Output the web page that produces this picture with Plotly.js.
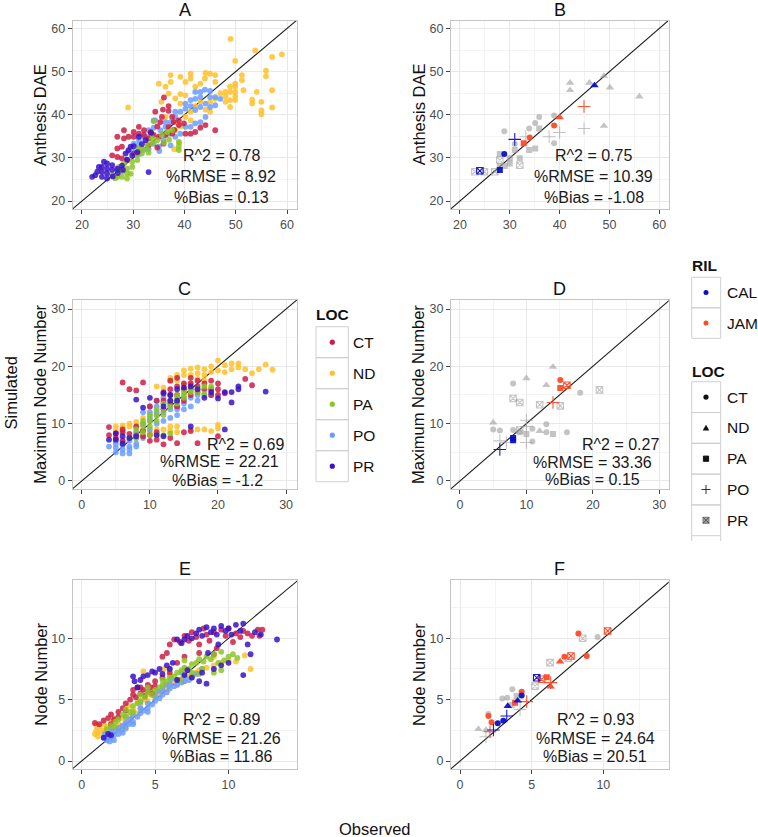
<!DOCTYPE html>
<html>
<head>
<meta charset="utf-8">
<script src="https://cdn.plot.ly/plotly-3.0.1.min.js"></script>
<style>html,body{margin:0;padding:0;background:#fff;}#chart{width:758px;height:837px;}</style>
</head>
<body>
<div id="chart"></div>
<script>
// ---------------- DATA ----------------
const locLevels = ['CT','ND','PA','PO','PR'];
const rilLevels = ['CAL','JAM'];
const panelTitles = ['A','B','C','D','E','F'];
const yTitles = ['Anthesis DAE','Anthesis DAE','Maximum Node Number','Maximum Node Number','Node Number','Node Number'];
const statsText = [
  ['R^2 = 0.78','%RMSE = 8.92','%Bias = 0.13'],
  ['R^2 = 0.75','%RMSE = 10.39','%Bias = -1.08'],
  ['R^2 = 0.69','%RMSE = 22.21','%Bias = -1.2'],
  ['R^2 = 0.27','%RMSE = 33.36','%Bias = 0.15'],
  ['R^2 = 0.89','%RMSE = 21.26','%Bias = 11.86'],
  ['R^2 = 0.93','%RMSE = 24.64','%Bias = 20.51']
];

// Panel A : Anthesis DAE (all RILs), coloured by LOC
const obsA_ND = [49,53.8,59,57.1,49.9,55.9,55.9,57.1,57.1,55,55,55,54.1,53.2,53.2,51.2,51.2,51.5,49.9,49.9,49.9,49.9,49.9,48.9,48.9,48.9,48,48,47,46,46,45,44.1,44,43.1,42.1,41.2,41.2,40.2,39.2,37.3,37.3,36.3,35,35.5,29,36.9,38.2,39.2,39.2,40.2,40.2,41.2,42.1,43.1,45,46,44.1,45,41.2,39.2,38.2,38.2,36.3,48,48.9,39,38];
const simA_ND = [57.6,54.9,54,53.4,52.5,50.2,48.9,45.7,41.7,43,41,40.1,45.3,43.5,42.6,49.2,48,45.7,47.2,46.5,45.3,44.3,43.4,46.5,45.3,43.4,45.3,44.3,45,49.2,47.6,49.5,49.7,48.4,47.2,46.5,49.5,48.4,47.6,48.8,49.2,47.6,46.5,47.2,43,41.7,44.9,43.8,44.8,42.6,44.5,39.5,40.7,42,43,43,43.7,41.2,40.7,38.7,37.3,36.4,38.7,39.5,43,41.8,33.5,32];
const obsA_CT = [35.8,36.9,36.9,37.6,37.9,38.9,35.6,35.3,34.7,33.4,32.1,31.1,30.1,28.2,26.9,28.2,29.1,30.1,31.1,32.1,33,34,35,36.9,38.9,39.9,41.2,42.1,44.1,46,43.1,40.2,27.8,26.9,25.9,26.9,27.8,28.8,30.1,31.1,33,34.7,35.9,36.3,37.6,34.3,36,38];
const simA_CT = [41.2,42,40.9,39.5,38.3,38.7,39.5,38.3,37.3,36,36.4,37.2,36,36.4,34.9,34.5,34.9,34.9,35.6,35.3,34.5,35.3,34.9,37.2,37.6,38,35.6,36,37.6,36.4,37,35.6,32.6,32.2,30.6,30.2,29.9,29.5,31,31.4,32.9,32.4,33.3,35.3,35.6,40.7,44,36.5];
const obsA_PA = [26.9,27.8,27.8,28.8,28.8,29.8,29.8,30.8,30.8,31.7,31.7,32.7,32.7,33.7,33.7,34.7,35.6,36.6,37.6,38.9,38.9,38.9,28.8,25.9,27.2,28.2,31.1,34,27,29.5,33,36,37,26.5];
const simA_PA = [25.6,25.6,26.8,26.4,27.5,27.9,29.1,29.5,30.6,31,32.2,32.2,33.3,33.3,34.5,34.1,35.3,36,36.4,33.7,32.7,31.8,25.2,26,27.9,28.7,32.2,38.5,27.2,26.3,31.2,33.5,34.2,25.3];
const obsA_PO = [42.1,43.1,45,46,47,43.1,42.1,41.2,41.2,42.1,43.1,44.1,45,46,40.2,40.2,39.2,38.2,38.2,37.3,36.3,36.3,35.3,34.3,34,33,32.9,32.1,31.1,31.1,30.1,30.1,34,35,35.1,37.3,38.2,39.2,40.2,41.2,42.1,43.1,44.1,36.9,35.9,34,44,45,29,31,33,32];
const simA_PO = [45.3,45.3,44.1,44.1,43.7,44.1,43.7,43.4,42,41.1,41.8,42.6,41.8,42.2,42.6,41.4,40.7,40.7,39.5,38.3,38.3,37.2,36.4,38.7,37,36.4,34.9,34.9,34.1,33,33.3,31.4,33.3,32.6,31.6,32.9,34.9,35.6,37.2,37.2,38,38.3,39.5,35.6,34.1,38.7,45.8,45.5,31.5,30.8,32,31.8];
const obsA_PR = [22.6,23.9,23.9,23.9,24.9,24.9,24.9,25.9,25.9,22,23,24.9,23.3,24.3,30.1,31.1,28.5,29.1,29.5,32.4,33,26.9,27.8,28.8,29.8,30.8,31.7,33.5,26,27,28];
const simA_PR = [26,27.9,26.8,25.6,28.7,27.5,26.4,28.3,27.2,25.6,26.8,25.2,27.9,29.1,32.7,34.9,31,31.8,32.6,34.1,26.7,27.5,28.2,29.6,30.5,31.3,33.2,35.8,25.7,26.5,27.2];

// Panel C : Maximum Node Number (all RILs), coloured by LOC
const obsC_CT = [6,7,8,9,12,12,13,13,13,14,14,14,15,15,16,16,16,16,17,17,17,18,18,19,19,19,20,20,20,21,24,25,13,11,10,15,12,14,4,4,5,5,6,6,7,8,9,9,10,11,12,13,14,15,16,17,20,10,11,6,8];
const simC_CT = [17.2,16,15.8,17.2,14,15.5,15,16,17.5,15,16.5,18,16,17,15,16,17,18,15.5,16.5,17.5,16,17,15,16,17.5,15,16,17,15.3,17.8,16.7,13.5,14,13,14,12.5,13,8,9.4,8.3,7.5,7,8.5,8.2,8,7.8,8.8,8,8.5,6.4,7.5,6.6,8.5,8.7,6.6,7.8,7,7.2,9,9.5];
const obsC_ND = [5,6,6,7,7,8,8,9,9,10,11,12,12,13,13,14,14,15,15,16,16,17,17,18,18,19,19,20,20,21,21,22,22,23,23,24,25,26,27,28,13,14,14,16,17,18,19,20,20,13,5,6,9,10,11,12,16,18,17,15];
const simC_ND = [9.5,9.3,9.7,9.5,10,9.5,10.3,10,11,11.5,16.5,15,16.3,17.5,18,17.5,18.5,18.5,19.3,18.5,19.6,18.8,19.8,18.5,19.5,19,20,19.3,21,19,20.2,19.5,20.5,19.8,20.5,19.5,18.8,19.5,20.3,19.4,9.5,9.5,8.5,9,9,9,8.7,9.2,9.8,8.7,8.8,8.7,8,8.5,9,9,17,17.5,17.8,16.8];
const obsC_PA = [7,8,8,9,9,9,10,10,10,10,11,11,11,12,12,12,13,13,14,14,15,15,16,16,17,18,19,13,11,12,8,14,15,17,18];
const simC_PA = [7.5,8,9,8.5,9.5,10.5,8,9.5,10.5,11.5,10.5,11.5,12.5,11.5,12.5,13.5,13,14,13.5,14.5,14.5,15.5,15.5,16,16,16.5,16.5,8.3,8,8,7.5,15,15,15.5,15.2];
const obsC_PO = [5,5,5,6,6,6,6,7,7,7,8,8,8,9,9,9,9,10,10,10,10,11,11,11,11,12,12,12,12,13,13,13,14,14,14,15,15,16,16,17,17,18,19,4,5,7,8,10,11,13,14,15];
const simC_PO = [5,5.8,6.5,4.8,5.5,6.3,7,4.8,6,7,6.5,7.5,8.5,7.5,8.8,10,12,9,10.5,12,13,10,11.5,13,14,10.5,12,13.5,14.5,11,12.5,14,11.5,13,14,12.5,13.5,13,14.5,14,15,15,15,6,7,5.5,6,11,12,13,12.5,14.5];
const obsC_PR = [4,5,5,6,7,8,9,10,11,12,12,13,14,14,15,16,16,17,19,20,21,21,22,22,23,23,27,18,13,12,6,8];
const simC_PR = [7.2,7.2,8.3,7.8,7.5,14.2,12.8,14.5,8,7.8,15.3,15,14,16,16.3,16.5,9.5,16,15.5,14.4,15.5,9,13.7,15.5,16.5,16,15.6,14.5,14,13,6.5,7.8];

// Panel E : Node Number (all RILs), coloured by LOC
const obsE_PO = [1.5,1.7,1.8,2,2,2.2,2.3,2.5,2.5,2.7,2.8,3,3,3.2,3.3,3.5,3.5,3.8,4,4,4.2,4.5,4.5,4.8,5,5,5.3,5.5,5.5,5.8,6,6,6.3,6.5,6.5,6.8,7,7,7.3,7.5,2.2,2.8,3.5,4.5,1.6,5.2,6.1,7.8,8.2,3,2,4,5.7,6.8,1.9];
const simE_PO = [1.9,1.7,2.1,1.9,2.3,2.1,2.5,2.2,2.7,2.5,2.9,2.7,3.1,3,3.4,3.2,3.7,3.6,3.9,4.3,4.1,4.3,4.7,4.6,4.9,5.3,5.1,5.4,5.8,5.6,5.9,6.3,6.1,6.2,6.6,6.4,6.5,6.9,6.6,6.8,1.7,2.3,3,4,2.2,5.7,6.7,7.1,7.5,3.6,2.7,4.8,6.2,7.2,1.6];
const obsE_ND = [0.9,1,1,1.1,1.2,1.3,1.5,1.5,1.7,1.8,2,2,2.3,2.5,2.5,2.8,3,3,3.3,3.5,3.7,4,4,4.2,4.3,4.5,4.7,5,5,5.3,5.5,5.6,5.8,6,6.3,6.5,6.8,7,7.3,7.5,7.8,8,8.5,9,9.5,10,10.5,11.1,11.5,3.2,3.8,2.2,6,7,9,2.7];
const simE_ND = [2.2,2.5,2.9,2,2.7,2.3,2.5,3,2.8,2.2,2.6,3.1,2.7,2.5,3,2.8,2.6,3.3,3.7,4.2,3.9,4.3,4.6,7.3,5,4.9,5.4,5.2,5.7,5.5,5.8,7.5,6,6.2,6.5,6.3,6.7,6.5,6.9,7,7.2,7.4,7.6,7.8,8,8.2,8.1,8.6,7.5,4.5,4.8,3.5,7,7.5,8.5,3.5];
const obsE_CT = [0.9,1.2,1.5,1.8,2,2.2,2.5,2.5,2.8,3,3,3.3,3.5,3.5,3.7,3.8,4,4,4.2,4.3,4.5,4.5,4.7,5,5,5.5,5.5,5.8,6,6,6.3,6.5,6.7,7,7,7.3,7.5,7.8,8,8.3,8.5,8.7,9,9.2,9.5,9.8,10,10.3,10.5,10.8,11,11.3,11.6,12,12.3,12.1,8,9,4.8,2];
const simE_CT = [3.1,3,3.3,3.5,3.8,3.4,4,3.6,4.3,4.1,4.7,5,5.4,5.8,5.2,6,5.5,6,5.8,5.3,6.2,5.7,6,6.5,6.1,6.8,8.5,8.8,7.2,9.5,9.9,8,9.7,8.5,10.2,9.8,10.5,10.1,9.5,10.8,10.3,9.8,10.5,9.2,10.7,10.2,10.8,9.7,10.4,10.1,10.6,10.4,10.2,10.7,10.7,10.2,8.8,8.7,5.5,3];
const obsE_PA = [1.7,2,2.3,2.5,2.8,3,3,3.3,3.5,3.8,4,4,4.3,4.5,4.8,5,5.3,5.5,5.8,6,6.3,6.5,6.8,7,7.3,7.5,7.8,8,8.3,8.5,8.8,9,9.3,9.5,9.7,10,10.3,10.6,9,8,6,7,4.5,3.5,2.2,8.2,9.5,7.5,6.7,5.5];
const simE_PA = [2.6,2.9,3.2,3.4,3.8,3.6,4.2,4,4.5,4.7,4.9,5.4,5.2,5.6,5.4,5.8,6,6.2,6.5,6.8,6.9,7.2,7.4,7.6,7.5,7.9,8,8.3,8.1,8.5,8.3,8.7,8,7.4,8.2,8.5,8.7,8.4,7.2,7.1,7.5,8.2,6,4,2.8,7.5,8.9,7.2,6.6,6.6];
const obsE_PR = [1.5,1.8,2,3.5,3.6,4,4.2,4.5,4.8,5,5.3,5.5,5.8,6,6.2,6.5,6.8,7,7.2,7.5,7.8,8,8.2,8.5,8.8,9,9.2,9.5,9.8,10,10.2,10.5,10.8,11,11.3,11.5,11,13.3,7,7.5,8,8.5,9,9.5,10,6.5,7.2,8.2,12.2,11.8,9.3,8.6,3.8];
const simE_PR = [1.9,2.2,2.1,6.9,6.5,6.6,6.9,7,7.3,7.2,7.5,7.1,7.8,7.5,8,9.9,9.6,9.9,10.2,10,10.4,10.7,10.2,10.9,10.5,10.8,10.3,11,10.6,10.8,10.3,11.1,10.6,11.2,9.5,8.7,7,9.9,7,6.8,6.5,6.3,7.5,7.8,8,6.6,7.4,7.2,10.3,10.5,9.5,8.8,6];

// Panel B : Anthesis DAE (selected RILs); RIL '' = not CAL/JAM
const obsB = [42.1,42.1,46,48.9,50.1,56,48.9,47,44.9,44.9,37.9,40,33.2,40,38.9,34,32.8,35.9,35.1,33.9,28.9,38.9,38.9,31,35.9,35.1,33.9,32,30,30,28,28,29,31,32,27,24.9,23,28,31,28.9,28,24];
const simB = [47.4,45.7,47.4,49,46.3,44.2,37.4,46.8,41.9,36.8,34.9,35.9,34.9,39.4,37.5,34.7,33.4,39.5,38.1,36.8,36.2,33.4,39.8,33.2,36.8,32.2,31.8,29.9,29.9,28.7,30.9,28.1,28.1,31.8,28.3,26.8,26.8,26.8,29.5,34.3,30.9,27.2,27];
const locB = ['ND','ND','ND','ND','ND','ND','ND','ND','PO','PO','PO','PO','PO','ND','CT','CT','PA','CT','CT','CT','CT','CT','CT','CT','PA','PA','PA','PA','PA','PA','PA','PA','PA','PA','PR','PR','PR','PR','PR','PO','CT','PA','PR'];
const rilB = ['','','','','','','','CAL','JAM','','','','','JAM','JAM','JAM','JAM','','','','','','','','','','','','','','','','','','','','','','','CAL','CAL','CAL','CAL'];

// Panel D : Maximum Node Number (selected RILs)
const obsD = [8,18.1,5,6,10.9,10.9,13,13,16.1,8,5,10,13,14,12,10,14,9,8,9,12,15.1,21,9,6,10,10,7,10,15.1,15.1,16.1,14,8,8,6];
const simD = [17,15.4,9,8.8,9.1,6.9,9.9,8.5,8.5,8.9,10.2,17.9,16.7,19.9,8.7,8.2,8.2,8.5,14.4,13.7,13.3,13.1,15.9,8.9,7,10.6,6.7,6.7,9.5,17.6,16.2,16.7,13.7,7.1,7.5,5.5];
const locD = ['CT','CT','CT','CT','CT','CT','CT','CT','CT','CT','ND','ND','ND','ND','ND','PA','PA','PA','PR','PR','PR','PR','PR','PR','PO','PO','PO','PO','PO','CT','PA','PR','PO','PA','PA','PO'];
const rilD = ['','','','','','','','','','','','','','','','','','','','','','','','','','','','','','JAM','JAM','JAM','JAM','CAL','CAL','CAL'];

// Panel F : Node Number (selected RILs)
const obsF = [8.26,7.28,8.84,4.3,1.98,2.2,9.6,2.95,3.3,3.65,1.98,8.56,6.28,5.23,7.56,10.3,7.74,5.7,6.98,6.33,6.05,3.84,6.33,4.65,5.35,4.3,3.02,2.63,3.33,4.02,3.26,2.33,1.28,1.81,1.81,4.19,2.09,3.6,3.95];
const simF = [10.4,8.5,8.56,5.65,3.67,3.15,10.1,5.1,5.16,5.84,3.83,10,8.02,6.1,8.37,10.6,8.56,6.66,8.1,6.06,6.82,4.75,6.39,4.84,6.79,5.33,3.29,3.07,4.48,4.92,3.67,2.53,2.6,2.53,1.98,4.21,2.39,4.57,5.3];
const locF = ['CT','CT','CT','CT','CT','CT','CT','CT','CT','CT','CT','PR','PR','PR','PR','PR','PR','PR','ND','ND','PA','PA','PO','PO','PR','CT','CT','CT','ND','ND','PO','PO','ND','ND','PO','PO','PO','PA','PA'];
const rilF = ['JAM','JAM','JAM','JAM','JAM','JAM','','','','','','','','','','JAM','JAM','JAM','JAM','JAM','JAM','JAM','JAM','JAM','CAL','CAL','CAL','CAL','CAL','CAL','CAL','CAL','','','','','JAM','',''];

// axis ranges [x, y] per panel
const rangesX = [[18.2,61.95],[18.2,61.9],[-1.33,31.6],[-1.35,31.42],[-0.61,14.66],[-0.63,14.56]];
const rangesY = [[18.15,61.8],[18.15,61.8],[-1.4,31.57],[-1.4,31.57],[-0.65,14.75],[-0.65,14.75]];
const majorTick = [10,10,10,10,5,5];
// stats label positions (data units) per panel: [x,y] for each line
const statsPos = [
  [[47.2,30.65],[47.2,25.6],[47.2,20.9]],
  [[46.9,30.65],[46.9,25.6],[46.9,20.9]],
  [[24.1,6.45],[20.2,3.36],[20.0,0.17]],
  [[24.1,6.45],[20.0,3.3],[20.0,0.2]],
  [[9.5,3.4],[9.5,1.85],[9.5,0.35]],
  [[9.42,3.4],[9.42,1.85],[9.42,0.35]]
];

// ---------------- STYLE ----------------
const W = 758, H = 837;
const FONT = 'Liberation Sans, Arial, Helvetica, sans-serif';
const locColors = {CT:'#CC1F45', ND:'#FFC12A', PA:'#8CC625', PO:'#6A9CFF', PR:'#3A12C8'};
const rilColors = {CAL:'#0A10C8', JAM:'#FF4A26', '':'#9c9c9c'};
const locSymbols = {CT:'circle', ND:'triangle-up', PA:'square', PO:'cross-thin-open', PR:'square-x-open'};
const locSizes = {CT:6, ND:7.5, PA:6, PO:9, PR:6.5};
// panel pixel boxes [left, right, top, bottom]
const colX = [[72.7,297],[451,668.7]];
const rowY = [[20.7,209],[300,489],[580,769]];
const px2x = p => p / W;
const px2y = p => 1 - p / H;

const data = [];
const layout = {
  width: W, height: H, margin: {l:0, r:0, t:0, b:0},
  paper_bgcolor: '#ffffff', plot_bgcolor: '#ffffff',
  font: {family: FONT, color: '#1a1a1a'},
  showlegend: false, annotations: [], shapes: []
};

for (let i = 0; i < 6; i++) {
  const c = i % 2, r = Math.floor(i / 2);
  const xs = i === 0 ? '' : String(i + 1);
  const dt = majorTick[i];
  const base = {
    autorange: false, tick0: 0, dtick: dt, ticks: 'outside', ticklen: 4, tickwidth: 1,
    tickcolor: '#444', showline: true, mirror: true, linecolor: '#c4c4c4', linewidth: 1,
    showgrid: true, gridcolor: '#e8e8e8', gridwidth: 1, zeroline: false,
    tickfont: {size: 12.5, color: '#4d4d4d', family: FONT},
    minor: {tick0: 0, dtick: dt / 2, showgrid: true, gridcolor: '#f4f4f4', gridwidth: 1, ticks: ''},
    fixedrange: true
  };
  layout['xaxis' + xs] = Object.assign({}, base, {
    domain: [px2x(colX[c][0]), px2x(colX[c][1])], range: rangesX[i], anchor: 'y' + xs
  });
  layout['yaxis' + xs] = Object.assign({}, base, {
    domain: [px2y(rowY[r][1]), px2y(rowY[r][0])], range: rangesY[i], anchor: 'x' + xs
  });
  // panel title
  layout.annotations.push({text: panelTitles[i], xref: 'paper', yref: 'paper',
    x: px2x((colX[c][0] + colX[c][1]) / 2), y: px2y(rowY[r][0] - 11), xanchor: 'center', yanchor: 'middle',
    showarrow: false, font: {size: 18, color: '#111'}});
  // y axis title
  layout.annotations.push({text: yTitles[i], xref: 'paper', yref: 'paper', textangle: -90,
    x: px2x(colX[c][0] - 32.5), y: px2y((rowY[r][0] + rowY[r][1]) / 2), xanchor: 'center', yanchor: 'middle',
    showarrow: false, font: {size: 16.5, color: '#111'}});
  // stats
  for (let k = 0; k < 3; k++) {
    layout.annotations.push({text: statsText[i][k], xref: 'x' + xs, yref: 'y' + xs,
      x: statsPos[i][k][0], y: statsPos[i][k][1], xanchor: 'center', yanchor: 'middle',
      showarrow: false, font: {size: 16, color: '#1a1a1a'}});
  }
  // 1:1 line from the axis ranges
  const lo = Math.min(rangesX[i][0], rangesY[i][0]) - 5, hi = Math.max(rangesX[i][1], rangesY[i][1]) + 5;
  data.push({type: 'scatter', mode: 'lines', x: [lo, hi], y: [lo, hi], xaxis: 'x' + xs, yaxis: 'y' + xs,
    line: {color: '#1e1e1e', width: 1.1}, hoverinfo: 'skip'});
}

// coloured-by-LOC panels (A, C, E)
function addLocSeries(xs, obs, sim, loc) {
  data.push({type: 'scatter', mode: 'markers', x: obs, y: sim, xaxis: 'x' + xs, yaxis: 'y' + xs,
    marker: {color: locColors[loc], size: 5.8, opacity: 0.85, line: {width: 0}}, hoverinfo: 'skip'});
}
const order = ['ND','PO','CT','PA','PR'];
const setA = {CT:[obsA_CT,simA_CT], ND:[obsA_ND,simA_ND], PA:[obsA_PA,simA_PA], PO:[obsA_PO,simA_PO], PR:[obsA_PR,simA_PR]};
const setC = {CT:[obsC_CT,simC_CT], ND:[obsC_ND,simC_ND], PA:[obsC_PA,simC_PA], PO:[obsC_PO,simC_PO], PR:[obsC_PR,simC_PR]};
const setE = {CT:[obsE_CT,simE_CT], ND:[obsE_ND,simE_ND], PA:[obsE_PA,simE_PA], PO:[obsE_PO,simE_PO], PR:[obsE_PR,simE_PR]};
order.forEach(l => addLocSeries('', setA[l][0], setA[l][1], l));
order.forEach(l => addLocSeries('3', setC[l][0], setC[l][1], l));
order.forEach(l => addLocSeries('5', setE[l][0], setE[l][1], l));

// shape-by-LOC, colour-by-RIL panels (B, D, F)
function addRilPanel(xs, obs, sim, loc, ril) {
  ['', 'JAM', 'CAL'].forEach(rv => {
    locLevels.forEach(lv => {
      const xx = [], yy = [];
      for (let j = 0; j < obs.length; j++) if (ril[j] === rv && loc[j] === lv) { xx.push(obs[j]); yy.push(sim[j]); }
      if (!xx.length) return;
      const col = rilColors[rv];
      const open = (lv === 'PO' || lv === 'PR');
      data.push({type: 'scatter', mode: 'markers', x: xx, y: yy, xaxis: 'x' + xs, yaxis: 'y' + xs,
        marker: {symbol: locSymbols[lv], size: locSizes[lv], color: col, opacity: rv === '' ? 0.6 : 0.95,
          line: {color: col, width: open ? 1.1 : 0}}, hoverinfo: 'skip'});
    });
  });
}
addRilPanel('2', obsB, simB, locB, rilB);
addRilPanel('4', obsD, simD, locD, rilD);
addRilPanel('6', obsF, simF, locF, rilF);

// outer titles
layout.annotations.push({text: 'Simulated', xref: 'paper', yref: 'paper', textangle: -90,
  x: px2x(10.5), y: px2y(393), xanchor: 'center', yanchor: 'middle', showarrow: false, font: {size: 16.5, color: '#111'}});
layout.annotations.push({text: 'Observed', xref: 'paper', yref: 'paper',
  x: px2x(375), y: px2y(829), xanchor: 'center', yanchor: 'middle', showarrow: false, font: {size: 16.5, color: '#111'}});

// ---------------- LEGENDS (drawn as shapes + text) ----------------
function rectPx(x0, y0, x1, y1, line, fill) {
  layout.shapes.push({type: 'rect', xref: 'paper', yref: 'paper', x0: px2x(x0), x1: px2x(x1), y0: px2y(y1), y1: px2y(y0),
    line: {color: line, width: 1}, fillcolor: fill || 'rgba(0,0,0,0)', layer: 'above'});
}
function linePx(x0, y0, x1, y1, col, w) {
  layout.shapes.push({type: 'line', xref: 'paper', yref: 'paper', x0: px2x(x0), x1: px2x(x1), y0: px2y(y0), y1: px2y(y1),
    line: {color: col, width: w || 1}, layer: 'above'});
}
function circlePx(cx, cy, rr, col) {
  layout.shapes.push({type: 'circle', xref: 'paper', yref: 'paper', x0: px2x(cx - rr), x1: px2x(cx + rr), y0: px2y(cy + rr), y1: px2y(cy - rr),
    line: {width: 0}, fillcolor: col, layer: 'above'});
}
function pathPx(pts, col) {
  const d = pts.map((p, k) => (k ? 'L' : 'M') + px2x(p[0]).toFixed(5) + ',' + px2y(p[1]).toFixed(5)).join(' ') + ' Z';
  layout.shapes.push({type: 'path', xref: 'paper', yref: 'paper', path: d, line: {width: 0}, fillcolor: col, layer: 'above'});
}
function textPx(t, x, y, size, bold, anchor) {
  layout.annotations.push({text: bold ? '<b>' + t + '</b>' : t, xref: 'paper', yref: 'paper', x: px2x(x), y: px2y(y),
    xanchor: anchor || 'left', yanchor: 'middle', showarrow: false, font: {size: size, color: '#111'}});
}
const keyBorder = '#cfcfcf';

// LOC colour legend beside panel C
textPx('LOC', 314, 314, 15.5, true);
locLevels.forEach((l, k) => {
  const top = 326.7 + k * 31;
  rectPx(316, top, 348.3, top + 31, keyBorder);
  circlePx(332.3, top + 15.5, 2.6, locColors[l]);
  textPx(l, 350.5, top + 15.5, 15.5, false);
});

// RIL legend (right)
textPx('RIL', 689.5, 265, 15.5, true);
rilLevels.forEach((l, k) => {
  const top = 277.3 + k * 30.5;
  rectPx(691.7, top, 720.7, top + 30.5, keyBorder);
  circlePx(706, top + 15.25, 2.5, rilColors[l]);
  textPx(l, 724.5, top + 15.25, 15.5, false);
});

// LOC shape legend (right)
textPx('LOC', 689.5, 371.7, 15.5, true);
locLevels.forEach((l, k) => {
  const top = 381.7 + k * 30.8;
  const cy = top + 15.4, cx = 706;
  rectPx(691.7, top, 720.7, top + 30.8, keyBorder);
  if (l === 'CT') circlePx(cx, cy, 2.6, '#111');
  if (l === 'ND') pathPx([[cx - 3.3, cy + 2.6], [cx + 3.3, cy + 2.6], [cx, cy - 3.2]], '#111');
  if (l === 'PA') rectPx(cx - 2.6, cy - 2.6, cx + 2.6, cy + 2.6, '#111', '#111');
  if (l === 'PO') { linePx(cx - 4.5, cy, cx + 4.5, cy, '#333', 1); linePx(cx, cy - 4.5, cx, cy + 4.5, '#333', 1); }
  if (l === 'PR') { rectPx(cx - 3, cy - 3, cx + 3, cy + 3, '#777', '#aaa'); linePx(cx - 3, cy - 3, cx + 3, cy + 3, '#444', 1); linePx(cx - 3, cy + 3, cx + 3, cy - 3, '#444', 1); }
  textPx(l, 724.5, cy, 15.5, false);
});
// cut-off edge of the next key below the right legend
linePx(691.7, 535.7, 691.7, 541, keyBorder, 1);
linePx(720.7, 535.7, 720.7, 541, keyBorder, 1);

Plotly.newPlot('chart', data, layout, {displayModeBar: false, staticPlot: true});
</script>
</body>
</html>
